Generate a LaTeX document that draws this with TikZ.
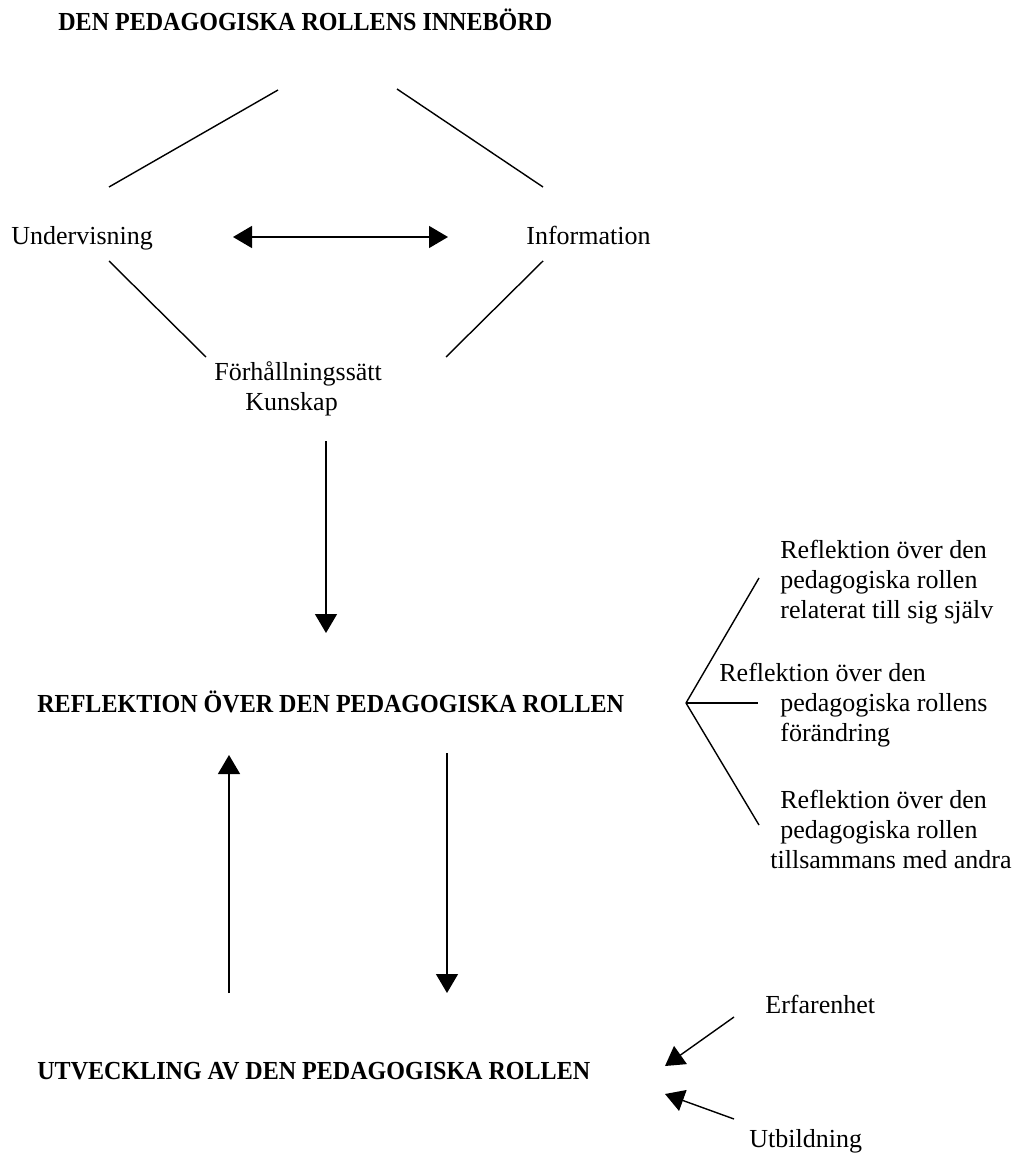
\documentclass[tikz,border=0pt]{standalone}
\usepackage{fontspec}
\setmainfont{Liberation Serif}
\newfontfamily\headfont{Liberation Serif}[FakeStretch=0.925]
\usetikzlibrary{arrows.meta}
\tikzset{
  rolletext/.style={font={\fontsize{14.8pt}{17pt}\selectfont}, inner sep=0pt, anchor=base west},
  rolleblock/.style={font={\fontsize{14.8pt}{17pt}\selectfont}, inner sep=0pt, anchor=north west, align=left},
  rollehead/.style={font={\headfont\bfseries\fontsize{14.8pt}{17pt}\selectfont}, inner sep=0pt, anchor=base west},
  linkline/.style={line width=0.8pt},
  flowarrow/.style={-{Triangle[length=3.8mm,width=4.4mm]}, line width=0.8pt},
  botharrow/.style={{Triangle[length=3.8mm,width=4.4mm]}-{Triangle[length=3.8mm,width=4.4mm]}, line width=0.8pt},
}

\begin{document}
\begin{tikzpicture}[x=0.02cm,y=-0.02cm]
  \useasboundingbox (0,0) rectangle (1017,1155);

  % headings
  \node[rollehead] (innebord) at (58,31) {DEN PEDAGOGISKA ROLLENS INNEB\"ORD};
  \node[rollehead] (reflektion) at (37,712) {REFLEKTION \"OVER DEN PEDAGOGISKA ROLLEN};
  \node[rollehead] (utveckling) at (37,1079) {UTVECKLING AV DEN PEDAGOGISKA ROLLEN};

  % the role's content
  \node[rolletext] (undervisning) at (11,245) {Undervisning};
  \node[rolletext] (information) at (526,245) {Information};
  \node[rolleblock] (forhallning) at (214,361) {Förhållningssätt\\\hspace*{0.62cm}Kunskap};

  % kinds of reflection
  \node[rolleblock] (reflsjalv) at (780,540) {Reflektion över den\\pedagogiska rollen\\relaterat till sig själv};
  \node[rolleblock] (reflforandr) at (719,663) {Reflektion över den\\\hspace*{1.22cm}pedagogiska rollens\\\hspace*{1.22cm}förändring};
  \node[rolleblock] (reflandra) at (770,790) {\hspace*{0.2cm}Reflektion över den\\\hspace*{0.2cm}pedagogiska rollen\\tillsammans med andra};

  % what feeds the development
  \node[rolletext] (erfarenhet) at (765,1013) {Erfarenhet};
  \node[rolletext] (utbildning) at (749,1147) {Utbildning};

  % line ends
  \coordinate (topL) at (278,90);   \coordinate (underN) at (109,187);
  \coordinate (topR) at (397,89);   \coordinate (infoN) at (543,187);
  \coordinate (underS) at (109,261); \coordinate (forhW) at (206,357);
  \coordinate (infoS) at (543,261);  \coordinate (forhE) at (446,357);
  \coordinate (dblW) at (233,237);   \coordinate (dblE) at (448,237);
  \coordinate (forhS) at (326,441);  \coordinate (reflN) at (326,633);
  \coordinate (upS) at (229,993);    \coordinate (upN) at (229,755);
  \coordinate (downN) at (447,753);  \coordinate (downS) at (447,993);
  \coordinate (apex) at (686,703);
  \coordinate (brUp) at (759,578);   \coordinate (brMid) at (758,703);
  \coordinate (brLow) at (759,825);
  \coordinate (erfW) at (734,1017);  \coordinate (utvE1) at (665,1066);
  \coordinate (utbW) at (734,1119);  \coordinate (utvE2) at (665,1094);

  \draw[linkline] (underN) -- (topL);
  \draw[linkline] (topR) -- (infoN);
  \draw[linkline] (underS) -- (forhW);
  \draw[linkline] (infoS) -- (forhE);
  \draw[botharrow] (dblW) -- (dblE);
  \draw[flowarrow] (forhS) -- (reflN);
  \draw[flowarrow] (upS) -- (upN);
  \draw[flowarrow] (downN) -- (downS);
  \draw[linkline] (apex) -- (brUp);
  \draw[linkline] (apex) -- (brMid);
  \draw[linkline] (apex) -- (brLow);
  \draw[flowarrow] (erfW) -- (utvE1);
  \draw[flowarrow] (utbW) -- (utvE2);
\end{tikzpicture}
\end{document}
